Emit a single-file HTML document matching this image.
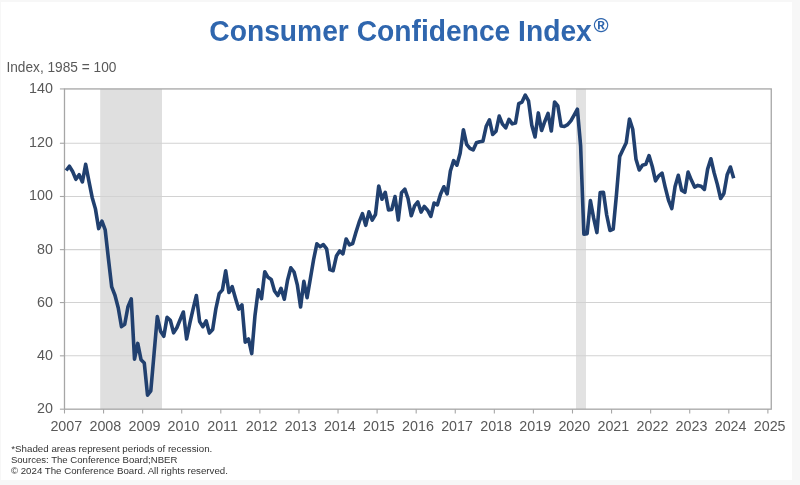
<!DOCTYPE html>
<html><head><meta charset="utf-8"><style>
html,body{margin:0;padding:0;}
body{width:800px;height:485px;background:#f7f7f7;position:relative;overflow:hidden;font-family:"Liberation Sans",sans-serif;}
.card{position:absolute;left:1px;top:2px;width:791px;height:478px;background:#fff;}
svg{position:absolute;left:0;top:0;filter:blur(0.35px);}
</style></head><body>
<div class="card"></div>
<svg width="800" height="485" viewBox="0 0 800 485">
<text x="209.3" y="40.5" font-family="Liberation Sans" font-weight="bold" font-size="28.8" fill="#2f66ae" textLength="382.5" lengthAdjust="spacingAndGlyphs">Consumer Confidence Index</text>
<text x="593.5" y="32" font-family="Liberation Sans" font-weight="bold" font-size="20.5" fill="#2f66ae">&#174;</text>
<g font-family="Liberation Sans" font-size="13.8" fill="#595959">
<text x="6.4" y="71.8" textLength="110" lengthAdjust="spacingAndGlyphs">Index, 1985 = 100</text>
</g>
<rect x="100.2" y="88.93" width="61.8" height="320.25" fill="#dfdfdf"/>
<rect x="576" y="88.93" width="10" height="320.25" fill="#e2e2e2"/>
<line x1="64.5" y1="355.82" x2="771.3" y2="355.82" stroke="#d2d2d2" stroke-width="1.1"/>
<line x1="64.5" y1="302.56" x2="771.3" y2="302.56" stroke="#d2d2d2" stroke-width="1.1"/>
<line x1="64.5" y1="249.64" x2="771.3" y2="249.64" stroke="#d2d2d2" stroke-width="1.1"/>
<line x1="64.5" y1="196.49" x2="771.3" y2="196.49" stroke="#d2d2d2" stroke-width="1.1"/>
<line x1="64.5" y1="143.25" x2="771.3" y2="143.25" stroke="#d2d2d2" stroke-width="1.1"/>

<rect x="64.49" y="88.93" width="706.77" height="320.25" fill="none" stroke="#a6a6a6" stroke-width="1.3"/>
<line x1="59.9" y1="409.18" x2="64.5" y2="409.18" stroke="#a6a6a6" stroke-width="1.1"/>
<line x1="59.9" y1="355.82" x2="64.5" y2="355.82" stroke="#a6a6a6" stroke-width="1.1"/>
<line x1="59.9" y1="302.56" x2="64.5" y2="302.56" stroke="#a6a6a6" stroke-width="1.1"/>
<line x1="59.9" y1="249.64" x2="64.5" y2="249.64" stroke="#a6a6a6" stroke-width="1.1"/>
<line x1="59.9" y1="196.49" x2="64.5" y2="196.49" stroke="#a6a6a6" stroke-width="1.1"/>
<line x1="59.9" y1="143.25" x2="64.5" y2="143.25" stroke="#a6a6a6" stroke-width="1.1"/>
<line x1="59.9" y1="88.93" x2="64.5" y2="88.93" stroke="#a6a6a6" stroke-width="1.1"/>
<line x1="64.49" y1="409.2" x2="64.49" y2="413.5" stroke="#a6a6a6" stroke-width="1.1"/>
<line x1="103.57" y1="409.2" x2="103.57" y2="413.5" stroke="#a6a6a6" stroke-width="1.1"/>
<line x1="142.64" y1="409.2" x2="142.64" y2="413.5" stroke="#a6a6a6" stroke-width="1.1"/>
<line x1="181.72" y1="409.2" x2="181.72" y2="413.5" stroke="#a6a6a6" stroke-width="1.1"/>
<line x1="220.80" y1="409.2" x2="220.80" y2="413.5" stroke="#a6a6a6" stroke-width="1.1"/>
<line x1="259.88" y1="409.2" x2="259.88" y2="413.5" stroke="#a6a6a6" stroke-width="1.1"/>
<line x1="298.95" y1="409.2" x2="298.95" y2="413.5" stroke="#a6a6a6" stroke-width="1.1"/>
<line x1="338.03" y1="409.2" x2="338.03" y2="413.5" stroke="#a6a6a6" stroke-width="1.1"/>
<line x1="377.11" y1="409.2" x2="377.11" y2="413.5" stroke="#a6a6a6" stroke-width="1.1"/>
<line x1="416.18" y1="409.2" x2="416.18" y2="413.5" stroke="#a6a6a6" stroke-width="1.1"/>
<line x1="455.26" y1="409.2" x2="455.26" y2="413.5" stroke="#a6a6a6" stroke-width="1.1"/>
<line x1="494.34" y1="409.2" x2="494.34" y2="413.5" stroke="#a6a6a6" stroke-width="1.1"/>
<line x1="533.41" y1="409.2" x2="533.41" y2="413.5" stroke="#a6a6a6" stroke-width="1.1"/>
<line x1="572.49" y1="409.2" x2="572.49" y2="413.5" stroke="#a6a6a6" stroke-width="1.1"/>
<line x1="611.57" y1="409.2" x2="611.57" y2="413.5" stroke="#a6a6a6" stroke-width="1.1"/>
<line x1="650.64" y1="409.2" x2="650.64" y2="413.5" stroke="#a6a6a6" stroke-width="1.1"/>
<line x1="689.72" y1="409.2" x2="689.72" y2="413.5" stroke="#a6a6a6" stroke-width="1.1"/>
<line x1="728.80" y1="409.2" x2="728.80" y2="413.5" stroke="#a6a6a6" stroke-width="1.1"/>
<line x1="767.88" y1="409.2" x2="767.88" y2="413.5" stroke="#a6a6a6" stroke-width="1.1"/>

<g font-family="Liberation Sans" font-size="14.3" fill="#595959">
<text x="52.9" y="413.18" text-anchor="end">20</text>
<text x="52.9" y="359.82" text-anchor="end">40</text>
<text x="52.9" y="306.56" text-anchor="end">60</text>
<text x="52.9" y="253.64" text-anchor="end">80</text>
<text x="52.9" y="200.49" text-anchor="end">100</text>
<text x="52.9" y="147.25" text-anchor="end">120</text>
<text x="52.9" y="92.93" text-anchor="end">140</text>
<text x="66.29" y="431" text-anchor="middle">2007</text>
<text x="105.37" y="431" text-anchor="middle">2008</text>
<text x="144.44" y="431" text-anchor="middle">2009</text>
<text x="183.52" y="431" text-anchor="middle">2010</text>
<text x="222.60" y="431" text-anchor="middle">2011</text>
<text x="261.68" y="431" text-anchor="middle">2012</text>
<text x="300.75" y="431" text-anchor="middle">2013</text>
<text x="339.83" y="431" text-anchor="middle">2014</text>
<text x="378.91" y="431" text-anchor="middle">2015</text>
<text x="417.98" y="431" text-anchor="middle">2016</text>
<text x="457.06" y="431" text-anchor="middle">2017</text>
<text x="496.14" y="431" text-anchor="middle">2018</text>
<text x="535.21" y="431" text-anchor="middle">2019</text>
<text x="574.29" y="431" text-anchor="middle">2020</text>
<text x="613.37" y="431" text-anchor="middle">2021</text>
<text x="652.44" y="431" text-anchor="middle">2022</text>
<text x="691.52" y="431" text-anchor="middle">2023</text>
<text x="730.60" y="431" text-anchor="middle">2024</text>
<text x="769.68" y="431" text-anchor="middle">2025</text>

</g>
<path d="M66.12,170.50 L69.37,166.23 L72.63,171.56 L75.89,179.29 L79.14,174.76 L82.40,181.96 L85.66,164.37 L88.91,181.16 L92.17,197.41 L95.43,208.87 L98.68,228.59 L101.94,221.13 L105.20,229.93 L108.45,258.97 L111.71,286.96 L114.96,295.22 L118.22,307.74 L121.48,326.66 L124.73,324.27 L127.99,306.68 L131.25,298.95 L134.50,359.18 L137.76,343.45 L141.02,359.71 L144.27,362.91 L147.53,395.16 L150.79,390.89 L154.04,353.85 L157.30,316.54 L160.55,331.20 L163.81,336.26 L167.07,317.34 L170.32,320.27 L173.58,332.79 L176.84,327.73 L180.09,319.74 L183.35,312.01 L186.61,338.92 L189.86,323.20 L193.12,308.81 L196.37,295.48 L199.63,321.60 L202.89,326.66 L206.14,320.80 L209.40,333.06 L212.66,329.60 L215.91,308.54 L219.17,293.62 L222.43,289.89 L225.68,270.70 L228.94,292.55 L232.20,286.69 L235.45,298.15 L238.71,309.08 L241.96,304.81 L245.22,342.12 L248.48,338.92 L251.73,353.58 L254.99,315.47 L258.25,289.89 L261.50,298.68 L264.76,271.77 L268.02,277.36 L271.27,279.49 L274.53,290.95 L277.79,295.48 L281.04,288.29 L284.30,299.22 L287.55,280.29 L290.81,267.77 L294.07,272.03 L297.32,284.82 L300.58,306.94 L303.84,281.36 L307.09,297.62 L310.35,278.69 L313.61,259.51 L316.86,243.78 L320.12,246.72 L323.38,244.58 L326.63,248.85 L329.89,269.63 L333.14,270.70 L336.40,256.04 L339.66,250.98 L342.91,253.91 L346.17,238.99 L349.43,244.85 L352.68,243.52 L355.94,232.32 L359.20,221.93 L362.45,213.67 L365.71,225.39 L368.96,211.80 L372.22,220.06 L375.48,214.47 L378.73,185.95 L381.99,199.28 L385.25,192.35 L388.50,209.94 L391.76,209.41 L395.02,196.61 L398.27,220.06 L401.53,192.62 L404.79,189.15 L408.04,198.48 L411.30,215.80 L414.55,205.94 L417.81,201.94 L421.07,212.07 L424.32,206.47 L427.58,210.20 L430.84,216.33 L434.09,203.01 L437.35,204.87 L440.61,193.95 L443.86,186.75 L447.12,193.95 L450.38,171.03 L453.63,160.64 L456.89,165.17 L460.14,153.17 L463.40,129.72 L466.66,144.38 L469.91,148.38 L473.17,149.98 L476.43,142.78 L479.68,141.71 L482.94,141.18 L486.20,126.26 L489.45,119.86 L492.71,134.52 L495.97,131.32 L499.22,116.13 L502.48,124.12 L505.73,127.86 L508.99,119.33 L512.25,123.86 L515.50,123.06 L518.76,103.60 L522.02,102.01 L525.27,95.08 L528.53,100.94 L531.79,125.19 L535.04,136.92 L538.30,112.93 L541.56,130.52 L544.81,121.46 L548.07,113.47 L551.32,131.05 L554.58,102.01 L557.84,106.00 L561.09,125.99 L564.35,126.52 L567.61,124.66 L570.86,120.93 L574.12,115.06 L577.38,109.20 L580.63,145.98 L583.89,234.19 L587.14,233.66 L590.40,200.61 L593.66,218.20 L596.91,232.59 L600.17,192.62 L603.43,192.35 L606.68,215.00 L609.94,230.46 L613.20,229.13 L616.45,194.75 L619.71,156.37 L622.97,149.44 L626.22,142.78 L629.48,119.06 L632.73,129.19 L635.99,159.30 L639.25,169.96 L642.50,165.17 L645.76,164.37 L649.02,155.57 L652.27,166.50 L655.53,180.89 L658.79,175.83 L662.04,173.16 L665.30,187.55 L668.56,200.34 L671.81,208.61 L675.07,186.49 L678.32,175.29 L681.58,190.22 L684.84,192.35 L688.09,172.09 L691.35,180.09 L694.61,187.02 L697.86,185.42 L701.12,186.22 L704.38,189.42 L707.63,169.16 L710.89,158.77 L714.15,172.89 L717.40,184.62 L720.66,198.48 L723.91,193.41 L727.17,174.76 L730.43,167.03 L733.68,178.22" fill="none" stroke="#21406f" stroke-width="3.6" stroke-linejoin="round" stroke-linecap="butt"/>
<g font-family="Liberation Sans" font-size="9.6" fill="#333333">
<text x="11.3" y="452.2" textLength="201" lengthAdjust="spacingAndGlyphs">*Shaded areas represent periods of recession.</text>
<text x="10.9" y="463" textLength="166.5" lengthAdjust="spacingAndGlyphs">Sources: The Conference Board;NBER</text>
<text x="10.9" y="474" textLength="217" lengthAdjust="spacingAndGlyphs">&#169; 2024 The Conference Board. All rights reserved.</text>
</g>
</svg>
</body></html>
